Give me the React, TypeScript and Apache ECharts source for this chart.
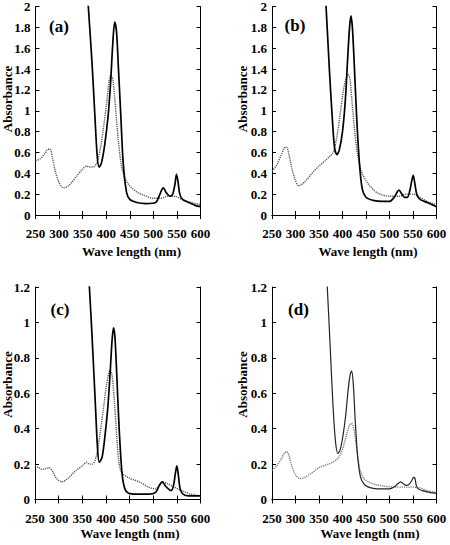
import React, { useEffect, useRef } from "react";
import * as echarts from "echarts";

// ---- Data (wavelength nm / absorbance) ----
const waveASolid = [340, 350, 362, 370, 376, 381, 385, 390, 397, 404, 409, 414, 418, 422, 426, 431, 436, 443, 450, 465, 485, 505, 513, 521, 528, 535, 541, 546, 549, 552, 556, 562, 575, 590, 600];
const absASolid = [3.4, 2.8, 2.0, 1.45, 0.95, 0.56, 0.46, 0.5, 0.68, 0.95, 1.25, 1.65, 1.85, 1.75, 1.4, 0.95, 0.5, 0.22, 0.15, 0.12, 0.11, 0.12, 0.19, 0.26, 0.21, 0.18, 0.2, 0.3, 0.39, 0.33, 0.2, 0.15, 0.12, 0.09, 0.08];
const waveADot = [250, 260, 270, 276, 281, 286, 292, 300, 309, 320, 335, 350, 358, 365, 372, 380, 388, 394, 401, 406, 410, 414, 418, 425, 432, 440, 450, 465, 480, 500, 515, 530, 545, 560, 580, 600];
const absADot = [0.52, 0.54, 0.59, 0.63, 0.63, 0.55, 0.42, 0.31, 0.26, 0.28, 0.36, 0.44, 0.47, 0.46, 0.46, 0.5, 0.65, 0.83, 1.08, 1.28, 1.34, 1.3, 1.12, 0.75, 0.48, 0.35, 0.28, 0.22, 0.19, 0.16, 0.16, 0.18, 0.18, 0.15, 0.12, 0.1];

const waveBSolid = [345, 355, 365, 372, 378, 383, 388, 393, 400, 406, 411, 415, 418, 421, 425, 430, 436, 442, 450, 465, 485, 500, 510, 515, 520, 525, 532, 538, 543, 547, 550.5, 554, 558, 565, 580, 600];
const absBSolid = [3.4, 2.7, 2.0, 1.4, 0.95, 0.65, 0.58, 0.62, 0.8, 1.1, 1.5, 1.8, 1.91, 1.8, 1.45, 0.95, 0.5, 0.25, 0.17, 0.14, 0.13, 0.13, 0.17, 0.21, 0.24, 0.21, 0.17, 0.17, 0.23, 0.32, 0.38, 0.3, 0.2, 0.15, 0.12, 0.08];
const waveBDot = [250, 260, 270, 276, 281, 286, 292, 300, 307, 320, 335, 350, 363, 372, 380, 388, 396, 402, 407, 412, 416, 420, 426, 432, 440, 450, 460, 475, 500, 520, 535, 550, 565, 580, 600];
const absBDot = [0.42, 0.48, 0.58, 0.64, 0.65, 0.58, 0.45, 0.33, 0.28, 0.32, 0.4, 0.47, 0.52, 0.56, 0.6, 0.75, 1.0, 1.2, 1.3, 1.35, 1.3, 1.1, 0.8, 0.58, 0.42, 0.33, 0.27, 0.21, 0.18, 0.18, 0.2, 0.2, 0.17, 0.13, 0.1];

const waveCSolid = [345, 355, 365, 372, 378, 382, 386, 392, 398, 404, 409, 413, 416, 419, 423, 428, 434, 440, 448, 465, 490, 505, 513, 519, 525, 532, 538, 543, 547, 550, 553, 557, 563, 575, 600];
const absCSolid = [2.0, 1.6, 1.2, 0.85, 0.52, 0.3, 0.21, 0.24, 0.36, 0.52, 0.72, 0.9, 0.97, 0.92, 0.7, 0.4, 0.15, 0.06, 0.035, 0.03, 0.03, 0.04, 0.08, 0.1, 0.08, 0.06, 0.05, 0.08, 0.15, 0.19, 0.14, 0.06, 0.03, 0.02, 0.02];
const waveCDot = [250, 258, 266, 273, 280, 287, 295, 307, 320, 335, 350, 359, 365, 372, 380, 388, 395, 402, 409, 413, 418, 423, 428, 434, 450, 470, 490, 505, 513, 519, 530, 545, 560, 580, 600];
const absCDot = [0.19, 0.18, 0.17, 0.175, 0.18, 0.16, 0.12, 0.1, 0.12, 0.16, 0.19, 0.21, 0.2, 0.2, 0.25, 0.38, 0.52, 0.66, 0.73, 0.7, 0.55, 0.35, 0.2, 0.15, 0.12, 0.1, 0.07, 0.06, 0.08, 0.1, 0.09, 0.07, 0.05, 0.03, 0.02];

const waveDSolid = [350, 360, 367.6, 374, 380, 385, 390, 395, 401, 407, 412, 416, 419.5, 423, 427, 432, 438, 445, 455, 475, 500, 512, 518, 524, 531, 537, 543, 548, 551, 554, 557, 561, 570, 585, 600];
const absDSolid = [1.9, 1.55, 1.2, 0.85, 0.52, 0.33, 0.26, 0.28, 0.36, 0.48, 0.62, 0.7, 0.725, 0.65, 0.45, 0.25, 0.13, 0.09, 0.07, 0.06, 0.06, 0.075, 0.09, 0.1, 0.085, 0.08, 0.09, 0.11, 0.125, 0.12, 0.08, 0.06, 0.05, 0.04, 0.035];
const waveDDot = [250, 260, 270, 276, 281, 286, 292, 300, 310, 320, 335, 350, 370, 385, 395, 402, 409, 415, 419, 422, 426, 431, 437, 445, 455, 470, 490, 510, 530, 550, 565, 580, 600];
const absDDot = [0.165, 0.19, 0.23, 0.26, 0.27, 0.25, 0.19, 0.14, 0.118, 0.125, 0.15, 0.18, 0.2, 0.22, 0.25, 0.3, 0.37, 0.42, 0.43, 0.42, 0.37, 0.27, 0.17, 0.12, 0.1, 0.085, 0.075, 0.07, 0.07, 0.07, 0.065, 0.05, 0.04];

const panelLabels = ["(a)", "(b)", "(c)", "(d)"];
const yMaxes = [2, 2, 1.2, 1.2];
const xTitle = "Wave length (nm)";
const yTitle = "Absorbance";

const FONT = "Liberation Serif";

const zip = (xs: number[], ys: number[]) => xs.map((x, i) => [x, ys[i]]);

export default function App() {
  const ref = useRef<HTMLDivElement>(null);
  useEffect(() => {
    if (!ref.current) return;
    const chart = echarts.init(ref.current, undefined, { renderer: "svg" });

    const grids = [
      { left: 35.5, top: 3, width: 165, height: 212 },
      { left: 272, top: 3, width: 164.5, height: 212 },
      { left: 35, top: 287, width: 165.5, height: 212.5 },
      { left: 272, top: 287, width: 164.5, height: 212.5 },
    ];
    const seriesData = [
      [zip(waveASolid, absASolid), zip(waveADot, absADot)],
      [zip(waveBSolid, absBSolid), zip(waveBDot, absBDot)],
      [zip(waveCSolid, absCSolid), zip(waveCDot, absCDot)],
      [zip(waveDSolid, absDSolid), zip(waveDDot, absDDot)],
    ];
    const labelPos = [[59, 26], [295, 25], [60, 309.5], [298.5, 309.5]];
    const yTitlePos = [[7, 99], [242, 99], [7, 384.5], [242.5, 384.5]];
    const xTitlePos = [[131.5, 251.7], [368, 251.7], [130, 533.7], [370, 533.7]];

    const axisLine = { show: true, lineStyle: { color: "#000", width: 1 } };
    const tick = { show: true, inside: true, length: 4, lineStyle: { color: "#000", width: 1 } };
    const label = { fontFamily: FONT, fontWeight: "bold" as const, fontSize: 13, color: "#000" };

    const xAxis: any[] = [];
    const yAxis: any[] = [];
    const series: any[] = [];
    const graphic: any[] = [];

    grids.forEach((g, i) => {
      xAxis.push({
        type: "value", gridIndex: i, min: 250, max: 600, interval: 50, position: "bottom",
        axisLine, axisTick: tick, splitLine: { show: false },
        axisLabel: { ...label, margin: 12, showMinLabel: true, showMaxLabel: true },
      });
      xAxis.push({
        type: "value", gridIndex: i, min: 250, max: 600, interval: 50, position: "top",
        axisLine, axisTick: tick, splitLine: { show: false }, axisLabel: { show: false },
      });
      yAxis.push({
        type: "value", gridIndex: i, min: 0, max: yMaxes[i], interval: 0.2, position: "left",
        axisLine, axisTick: tick, splitLine: { show: false },
        axisLabel: { ...label, margin: 5, showMinLabel: true, showMaxLabel: true },
      });
      yAxis.push({
        type: "value", gridIndex: i, min: 0, max: yMaxes[i], interval: 0.2, position: "right",
        axisLine, axisTick: tick, splitLine: { show: false }, axisLabel: { show: false },
      });
      const thin = i === 3;
      series.push({
        type: "line", xAxisIndex: 2 * i, yAxisIndex: 2 * i, data: seriesData[i][1],
        showSymbol: false, smooth: 0.3, clip: true,
        lineStyle: { color: thin ? "#777" : "#555", width: 1.4, type: [1.2, 1] },
      });
      series.push({
        type: "line", xAxisIndex: 2 * i, yAxisIndex: 2 * i, data: seriesData[i][0],
        showSymbol: false, smooth: 0.3, clip: true,
        lineStyle: { color: thin ? "#222" : "#000", width: thin ? 1.2 : 1.7 },
      });
      graphic.push({
        type: "text", x: labelPos[i][0], y: labelPos[i][1],
        style: { text: panelLabels[i], fontFamily: FONT, fontWeight: "bold", fontSize: 17, fill: "#000", align: "center", verticalAlign: "middle" },
      });
      graphic.push({
        type: "text", x: yTitlePos[i][0], y: yTitlePos[i][1], rotation: Math.PI / 2,
        style: { text: yTitle, fontFamily: FONT, fontWeight: "bold", fontSize: 13, fill: "#000", align: "center", verticalAlign: "middle" },
      });
      graphic.push({
        type: "text", x: xTitlePos[i][0], y: xTitlePos[i][1],
        style: { text: xTitle, fontFamily: FONT, fontWeight: "bold", fontSize: 13, fill: "#000", align: "center", verticalAlign: "middle" },
      });
    });

    chart.setOption({
      animation: false,
      backgroundColor: "#fff",
      grid: grids.map((g) => ({ ...g, containLabel: false })),
      xAxis,
      yAxis,
      series,
      graphic,
    });
    return () => chart.dispose();
  }, []);

  return (
    <div
      ref={ref}
      style={{ position: "absolute", left: 0, top: 0, width: 450, height: 545, background: "#fff" }}
    />
  );
}
